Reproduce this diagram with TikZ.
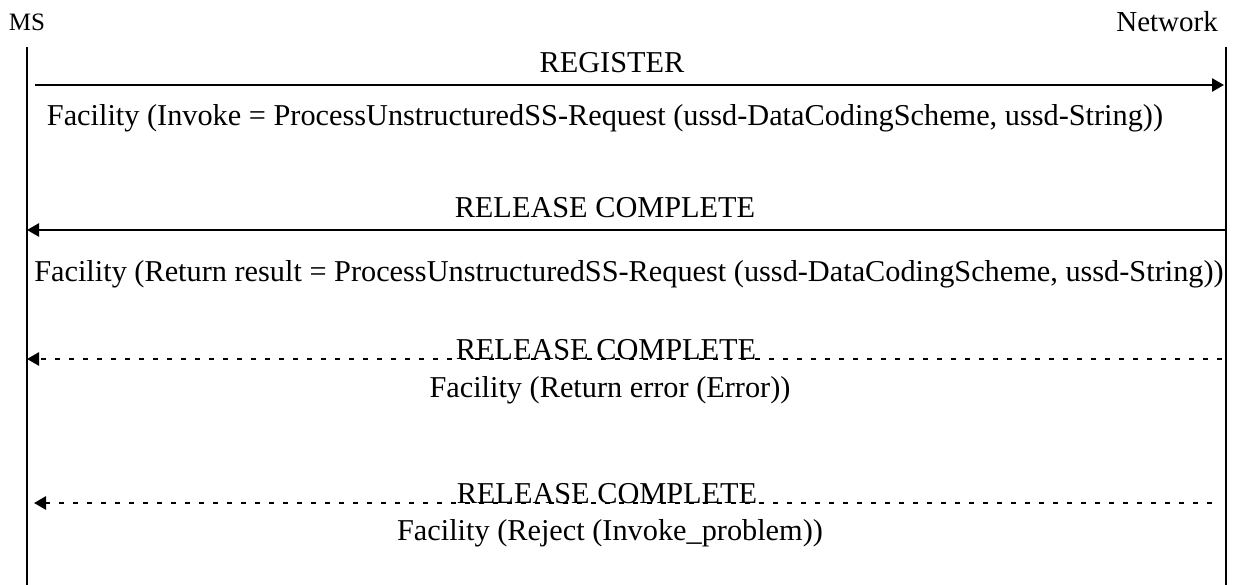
\documentclass[tikz,border=0pt]{standalone}
\usepackage{fontspec}
\setmainfont{Liberation Serif}
\usetikzlibrary{arrows.meta}

\begin{document}
\begin{tikzpicture}[x=1pt,y=-1pt,
  lifeline/.style={line width=2.8pt},
  msg/.style={line width=2.6pt, -{Triangle[length=12pt,width=13pt]}},
  optmsg/.style={msg, dash pattern=on 5pt off 9pt},
  lbl/.style={anchor=base, inner sep=0pt, font=\fontsize{30.3}{34}\selectfont},
  party/.style={anchor=base, inner sep=0pt, font=\fontsize{29}{34}\selectfont}]
  \useasboundingbox (0,0) rectangle (1239,585);

  % Parties
  \node[party, font=\fontsize{25}{30}\selectfont] (ms) at (27,31) {MS};
  \node[party, anchor=base east] (net) at (1218,32) {Network};

  % Lifelines
  \coordinate (ms top) at (27,47);
  \coordinate (ms bot) at (27,585);
  \coordinate (net top) at (1226,47);
  \coordinate (net bot) at (1226,585);
  \draw[lifeline] (ms top) -- (ms bot);
  \draw[lifeline] (net top) -- (net bot);

  % REGISTER
  \coordinate (reg from) at (35,85);
  \coordinate (reg to) at (1224,85);
  \draw[msg] (reg from) -- (reg to);
  \node[lbl] (register) at (612,73) {REGISTER};
  \node[lbl] (invoke) at (605,126) {Facility (Invoke = ProcessUnstructuredSS-Request (ussd-DataCodingScheme, ussd-String))};

  % RELEASE COMPLETE with result
  \coordinate (rel from) at (1226,230);
  \coordinate (rel to) at (27,230);
  \draw[msg] (rel from) -- (rel to);
  \node[lbl] (release) at (605,218) {RELEASE COMPLETE};
  \node[lbl] (result) at (629,282) {Facility (Return result = ProcessUnstructuredSS-Request (ussd-DataCodingScheme, ussd-String))};

  % RELEASE COMPLETE with error
  \coordinate (err from) at (1222,359);
  \coordinate (err to) at (27,359);
  \draw[optmsg] (err from) -- (err to);
  \node[lbl] (release err) at (606,359) {RELEASE COMPLETE};
  \node[lbl] (error) at (610,397) {Facility (Return error (Error))};

  % RELEASE COMPLETE with reject
  \coordinate (rej from) at (1212,503);
  \coordinate (rej to) at (34,503);
  \draw[optmsg] (rej from) -- (rej to);
  \node[lbl] (release rej) at (607,503) {RELEASE COMPLETE};
  \node[lbl] (reject) at (610,540) {Facility (Reject (Invoke\_problem))};

\end{tikzpicture}
\end{document}
